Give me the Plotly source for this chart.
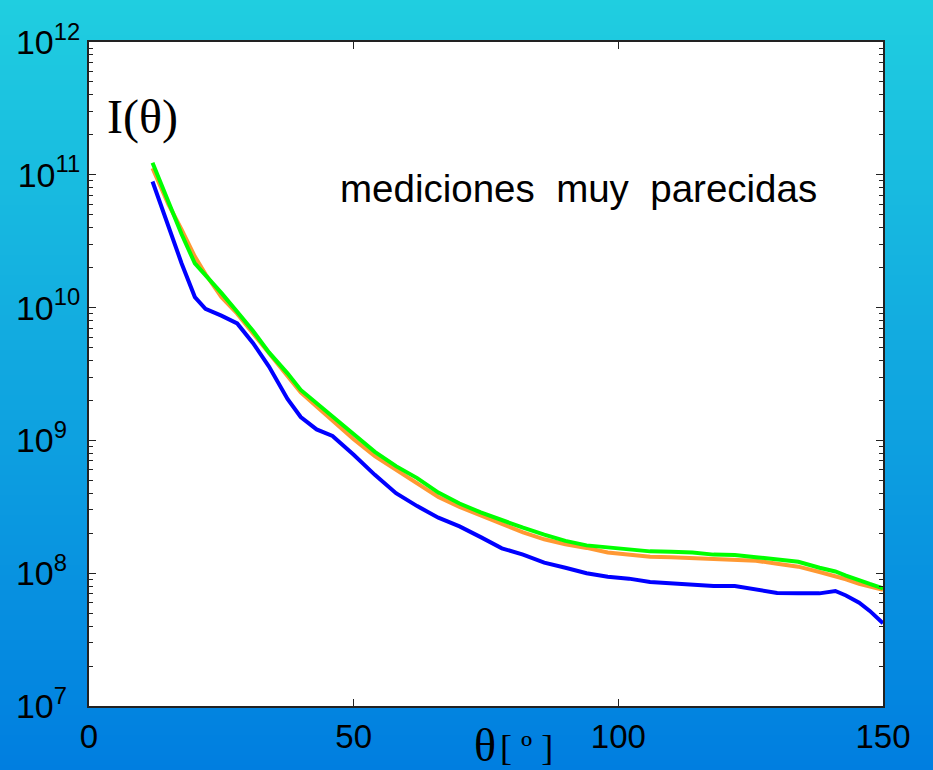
import plotly.graph_objects as go

# ---- data ----
theta = [12, 15, 17.5, 20, 22, 25, 28, 31, 34, 37.5, 40, 43, 46, 50, 54, 58, 62, 66, 70, 74,
         78, 82, 86, 90, 94, 98, 102, 106, 110, 114, 118, 122, 126, 130, 134, 138, 141, 143,
         145.5, 147.5, 150]

blue = [8.9e10, 4.0e10, 2.15e10, 1.2e10, 9.8e9, 8.7e9, 7.6e9, 5.4e9, 3.6e9, 2.05e9, 1.5e9,
        1.21e9, 1.08e9, 7.8e8, 5.5e8, 4.0e8, 3.2e8, 2.62e8, 2.25e8, 1.87e8, 1.54e8, 1.38e8,
        1.2e8, 1.1e8, 1.0e8, 9.4e7, 9.1e7, 8.6e7, 8.4e7, 8.3e7, 8.0e7, 8.0e7, 7.5e7, 7.1e7,
        7.05e7, 7.05e7, 7.35e7, 6.8e7, 6.0e7, 5.2e7, 4.2e7]

orange = [1.12e11, 6.0e10, 3.86e10, 2.42e10, 1.79e10, 1.2e10, 9.0e9, 6.4e9, 4.5e9, 3.0e9,
          2.3e9, 1.8e9, 1.4e9, 1.02e9, 7.6e8, 6.0e8, 4.8e8, 3.75e8, 3.15e8, 2.7e8, 2.35e8,
          2.03e8, 1.8e8, 1.65e8, 1.55e8, 1.43e8, 1.38e8, 1.33e8, 1.32e8, 1.3e8, 1.28e8,
          1.26e8, 1.24e8, 1.18e8, 1.12e8, 1.02e8, 9.5e7, 9.0e7, 8.3e7, 7.9e7, 7.5e7]

green = [1.23e11, 6.15e10, 3.57e10, 2.15e10, 1.76e10, 1.29e10, 9.3e9, 6.67e9, 4.6e9, 3.2e9,
         2.4e9, 1.9e9, 1.5e9, 1.1e9, 8.2e8, 6.4e8, 5.2e8, 4.05e8, 3.35e8, 2.87e8, 2.5e8,
         2.2e8, 1.95e8, 1.75e8, 1.62e8, 1.56e8, 1.5e8, 1.46e8, 1.45e8, 1.43e8, 1.38e8,
         1.37e8, 1.32e8, 1.28e8, 1.22e8, 1.1e8, 1.03e8, 9.6e7, 8.8e7, 8.3e7, 7.7e7]

x_ticks = [0, 50, 100, 150]
y_ticks = [1e7, 1e8, 1e9, 1e10, 1e11, 1e12]
y_ticktext = ["10<sup>7\u2007</sup>", "10<sup>8\u2007</sup>", "10<sup>9\u2007</sup>",
              "10<sup>10</sup>", "10<sup>11</sup>", "10<sup>12</sup>"]

# ---- figure ----
W, H = 933, 770
ML, MR, MT, MB = 89, 50, 42, 64
PW, PH = W - ML - MR, H - MT - MB

fig = go.Figure()
fig.add_trace(go.Scatter(x=theta, y=blue, mode="lines", line=dict(color="#0000FF", width=4)))
fig.add_trace(go.Scatter(x=theta, y=orange, mode="lines", line=dict(color="#FF9933", width=4)))
fig.add_trace(go.Scatter(x=theta, y=green, mode="lines", line=dict(color="#00FF00", width=4)))

# background gradient stripes (paper coords)
top = (32, 206, 224)
bot = (0, 126, 224)
n = 154
shapes = []
for i in range(n):
    py0 = H * i / n
    py1 = H * (i + 1) / n + 0.5
    t = (i + 0.5) / n
    c = tuple(round(top[k] + (bot[k] - top[k]) * t) for k in range(3))
    shapes.append(dict(type="rect", xref="paper", yref="paper", layer="below",
                       x0=-ML / PW - 0.01, x1=(W - ML) / PW + 0.01,
                       y0=(H - MB - py1) / PH, y1=(H - MB - py0) / PH,
                       fillcolor="rgb(%d,%d,%d)" % c, line=dict(width=0)))
# white plotting area on top of the stripes
shapes.append(dict(type="rect", xref="paper", yref="paper", layer="below",
                   x0=0, x1=1, y0=0, y1=1, fillcolor="white", line=dict(width=0)))

fig.update_layout(
    width=W, height=H,
    margin=dict(l=ML, r=MR, t=MT, b=MB, autoexpand=False),
    paper_bgcolor="rgb(16,166,224)",
    plot_bgcolor="white",
    showlegend=False,
    shapes=shapes,
    font=dict(family="Liberation Sans, Arial, sans-serif", color="black"),
)

fig.update_xaxes(
    range=[0, 150], tickvals=x_ticks, ticktext=[str(v) for v in x_ticks],
    ticks="inside", ticklen=7, tickwidth=1, tickcolor="#222",
    showline=True, linecolor="#222", linewidth=2, mirror="ticks",
    showgrid=False, zeroline=False, tickfont=dict(size=33), automargin=False,
)
fig.update_yaxes(
    type="log", range=[7, 12], tickvals=y_ticks, ticktext=y_ticktext,
    ticks="inside", ticklen=7, tickwidth=1, tickcolor="#222",
    minor=dict(ticks="inside", ticklen=4, tickwidth=1, tickcolor="#222", dtick="D1"),
    showline=True, linecolor="#222", linewidth=2, mirror="ticks",
    showgrid=False, zeroline=False, tickfont=dict(size=34), ticklabelstandoff=0,
    automargin=False,
)

fig.add_annotation(text="I(θ)", xref="paper", yref="paper",
                   x=(105 - ML) / PW, y=(H - MB - 117) / PH, xanchor="left", yanchor="middle",
                   showarrow=False, font=dict(family="Liberation Serif, Times New Roman, serif", size=48))
fig.add_annotation(text="mediciones  muy  parecidas", xref="paper", yref="paper",
                   x=(338 - ML) / PW, y=(H - MB - 189) / PH, xanchor="left", yanchor="middle",
                   showarrow=False, font=dict(family="Liberation Sans, Arial, sans-serif", size=38.5))
fig.add_annotation(text="θ", xref="paper", yref="paper",
                   x=(485 - ML) / PW, y=(H - MB - 745) / PH, xanchor="center", yanchor="middle",
                   showarrow=False, font=dict(family="Liberation Serif, Times New Roman, serif", size=46))
fig.add_annotation(text="[ º ]", xref="paper", yref="paper",
                   x=(526 - ML) / PW, y=(H - MB - 748) / PH, xanchor="center", yanchor="middle",
                   showarrow=False, font=dict(family="Liberation Serif, Times New Roman, serif", size=36))

fig.write_html("out.html", config={"displayModeBar": False})
with open("out.html", "r", encoding="utf-8") as f:
    html = f.read()
html = html.replace("<body>", '<body style="margin:0;padding:0;overflow:hidden">', 1)
html = html.replace("<head>", "<head><style>html,body{margin:0;padding:0;}</style>", 1)
with open("out.html", "w", encoding="utf-8") as f:
    f.write(html)
